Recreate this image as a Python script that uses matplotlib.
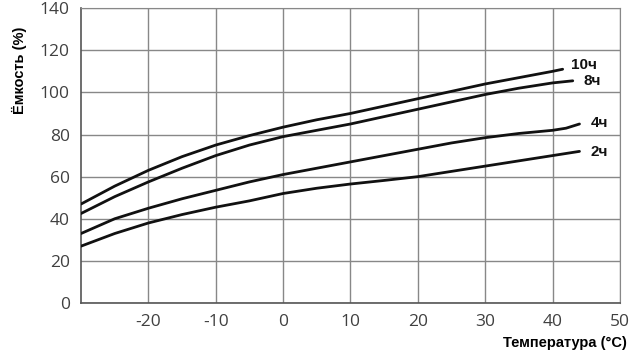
import matplotlib as mpl
mpl.use('Agg')
import matplotlib.pyplot as plt

plt.rcParams['axes.unicode_minus'] = False

t_10h = [-30, -25, -20, -15, -10, -5, 0, 5, 10, 15, 20, 25, 30, 35, 40, 41.5]
c_10h = [47, 55.5, 63, 69.5, 75, 79.5, 83.5, 87, 90, 93.5, 97, 100.5, 104, 107, 110, 111]
t_8h = [-30, -25, -20, -15, -10, -5, 0, 5, 10, 15, 20, 25, 30, 35, 40, 43]
c_8h = [42.5, 50.5, 57.5, 64, 70, 75, 79, 82, 85, 88.5, 92, 95.5, 99, 102, 104.5, 105.5]
t_4h = [-30, -25, -20, -15, -10, -5, 0, 5, 10, 15, 20, 25, 30, 35, 40, 42, 44]
c_4h = [33, 40, 45, 49.5, 53.5, 57.5, 61, 64, 67, 70, 73, 76, 78.5, 80.5, 82, 83, 85]
t_2h = [-30, -25, -20, -15, -10, -5, 0, 5, 10, 15, 20, 25, 30, 35, 40, 44]
c_2h = [27, 33, 38, 42, 45.5, 48.5, 52, 54.5, 56.5, 58.2, 60, 62.5, 65, 67.5, 70, 72]

labels = ['10ч', '8ч', '4ч', '2ч']
label_pos = [(42.8, 112.8), (44.6, 105.5), (45.6, 85.5), (45.6, 71.5)]
x_ticks = [-20, -10, 0, 10, 20, 30, 40, 50]
y_ticks = [0, 20, 40, 60, 80, 100, 120, 140]

fig = plt.figure(figsize=(6.4, 3.54), dpi=100)
ax = fig.add_axes([0.1266, 0.144, 0.842, 0.833])

for t, c in [(t_10h, c_10h), (t_8h, c_8h), (t_4h, c_4h), (t_2h, c_2h)]:
    ax.plot(t, c, color='#111111', lw=2.0, solid_capstyle='round', zorder=3)

for lab, (x, y) in zip(labels, label_pos):
    ax.text(x, y, lab, fontsize=11, fontweight='bold', family='Liberation Sans',
            ha='left', va='center', color='#111111')

ax.set_xlim(-30, 50)
ax.set_ylim(0, 140)
ax.set_xticks(x_ticks)
ax.set_yticks(y_ticks)
ax.grid(True, color='#888888', lw=1.0)
ax.tick_params(length=0, pad=8, labelsize=12.5, labelcolor='#404040')
for lbl in ax.get_xticklabels() + ax.get_yticklabels():
    lbl.set_family('Open Sans')
for side in ['top', 'right']:
    ax.spines[side].set_color('#888888')
for side in ['left', 'bottom']:
    ax.spines[side].set_color('#555555')
    ax.spines[side].set_linewidth(1.2)

ax.set_ylabel('Ёмкость (%)', fontsize=10.5, fontweight='bold', family='Liberation Sans')
ax.yaxis.set_label_coords(-0.1, 0.79)
fig.text(0.98, 0.03, 'Температура (°C)', fontsize=10.5, fontweight='bold',
         family='Liberation Sans', ha='right', va='center')

fig.savefig('out.png', dpi=100)
